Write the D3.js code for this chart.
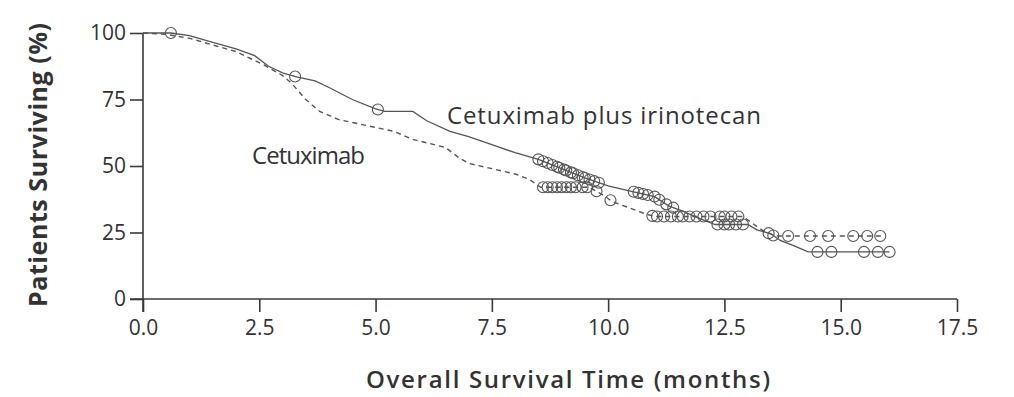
<!DOCTYPE html>
<html>
<head>
<meta charset="utf-8">
<script src="https://cdn.jsdelivr.net/npm/d3@7"></script>
<style>
  html, body { margin: 0; padding: 0; background: #fff; }
  svg { display: block; }
  text { font-family: "Open Sans", "Lato", sans-serif; fill: #333; }
</style>
</head>
<body>
<svg id="chart" width="1014" height="397"></svg>
<script>
// ---- Data ----
const xTicks = [0, 2.5, 5, 7.5, 10, 12.5, 15, 17.5];
const yTicks = [0, 25, 50, 75, 100];

// Cetuximab plus irinotecan (solid): months and % surviving
const comboTimes = [0, 0.6, 1.0, 1.5, 2.0, 2.4, 2.7, 3.0, 3.3, 3.7, 4.0, 4.5, 5.0, 5.2, 5.8, 6.1, 6.6, 7.0, 7.5, 8.0, 8.5, 9.0, 9.5, 10.0, 10.5, 11.0, 11.3, 11.6, 12.0, 12.3, 13.0, 13.2, 13.5, 13.7, 14.0, 14.3, 16.05];
const comboSurv  = [100, 100, 99, 96.5, 94, 91.5, 87.5, 85, 83.5, 82, 79.5, 75, 71.5, 70.5, 70.5, 67, 63, 61, 58, 55, 52.5, 49, 45.5, 42.5, 40.5, 38.5, 35, 33, 30, 28, 28, 26, 24.5, 22, 20, 17.7, 17.7];
const comboCensor = [0.6, 3.27, 5.05, 8.5, 8.6, 8.7, 8.8, 8.9, 8.95, 9.05, 9.1, 9.2, 9.25, 9.35, 9.45, 9.5, 9.6, 9.7, 9.8, 10.55, 10.65, 10.75, 10.85, 11.0, 11.1, 11.25, 11.4, 12.35, 12.5, 12.6, 12.75, 12.9, 13.45, 13.55, 14.5, 14.8, 15.5, 15.8, 16.05];

// Cetuximab (dashed)
const monoTimes = [0, 0.5, 1.0, 1.5, 2.0, 2.6, 3.0, 3.2, 3.5, 3.8, 4.2, 5.0, 5.4, 5.8, 6.5, 6.8, 7.0, 7.5, 8.0, 8.3, 8.55, 9.6, 9.9, 10.1, 10.5, 10.8, 11.0, 12.9, 13.1, 13.3, 13.6, 15.9];
const monoSurv  = [100, 99.5, 98, 95.5, 93, 88, 84, 81, 75, 70.5, 67.5, 64.5, 63, 60, 57, 53, 51, 49, 47, 45, 42, 42, 39, 36.5, 34, 32, 31, 31, 28.5, 26, 23.7, 23.7];
const monoCensor = [8.6, 8.7, 8.8, 8.9, 9.0, 9.1, 9.2, 9.3, 9.45, 9.55, 9.75, 10.05, 10.95, 11.05, 11.2, 11.35, 11.5, 11.6, 11.75, 11.9, 12.05, 12.2, 12.4, 12.5, 12.65, 12.8, 13.87, 14.34, 14.73, 15.27, 15.57, 15.85];

const labels = ["Cetuximab plus irinotecan", "Cetuximab"];

// ---- Drawing ----
const svg = d3.select("#chart");
const x = d3.scaleLinear().domain([0, 17.5]).range([143, 957]);
const y = d3.scaleLinear().domain([0, 100]).range([299, 33]);
const ink = "#3a3a3a";

const xAxis = svg.append("g").attr("transform", `translate(0,${y(0)})`)
  .call(d3.axisBottom(x).tickValues(xTicks).tickFormat(d3.format(".1f")).tickSize(13).tickPadding(8));
const yAxis = svg.append("g").attr("transform", `translate(${x(0)},0)`)
  .call(d3.axisLeft(y).tickValues(yTicks).tickFormat(d3.format("d")).tickSize(13).tickPadding(4));
[xAxis, yAxis].forEach(g => {
  g.select(".domain").attr("stroke", ink).attr("stroke-width", 1.6);
  g.selectAll(".tick line").attr("stroke", ink).attr("stroke-width", 1.6);
  g.selectAll(".tick text").attr("fill", "#505050").style("font-size", "21px")
    .style("font-family", "'Open Sans', sans-serif");
});
yAxis.select(".domain").attr("d", `M0,${y(100)}V${y(0) + 13}`);
xAxis.select(".domain").attr("d", `M${-13},0H${x(17.5) - x(0)}`).attr("transform", `translate(${x(0)},0)`);

const mk = (t, s) => t.map((d, i) => [d, s[i]]);
const combo = mk(comboTimes, comboSurv);
const mono = mk(monoTimes, monoSurv);
const line = d3.line().x(d => x(d[0])).y(d => y(d[1]));

svg.append("path").datum(mono).attr("d", line).attr("fill", "none")
  .attr("stroke", "#555").attr("stroke-width", 1.4).attr("stroke-dasharray", "5,4");
svg.append("path").datum(combo).attr("d", line).attr("fill", "none")
  .attr("stroke", "#555").attr("stroke-width", 1.3);

function survAt(pts, t) {
  for (let i = 1; i < pts.length; i++) {
    if (t <= pts[i][0]) {
      const [t0, s0] = pts[i - 1], [t1, s1] = pts[i];
      return s0 + (s1 - s0) * (t - t0) / (t1 - t0);
    }
  }
  return pts[pts.length - 1][1];
}
function censors(times, pts) {
  svg.append("g").selectAll("circle").data(times).join("circle")
    .attr("cx", d => x(d)).attr("cy", d => y(survAt(pts, d)))
    .attr("r", 5.5).attr("fill", "none").attr("stroke", "#555").attr("stroke-width", 1.1);
}
censors(comboCensor, combo);
censors(monoCensor, mono);

svg.append("text").attr("x", 447).attr("y", 124).style("font-size", "24px").attr("fill", "#333")
  .attr("textLength", 314).attr("lengthAdjust", "spacing").text(labels[0]);
svg.append("text").attr("x", 252).attr("y", 164).style("font-size", "24px").attr("fill", "#333")
  .attr("textLength", 113).attr("lengthAdjust", "spacing").text(labels[1]);

svg.append("text").attr("x", 366).attr("y", 388)
  .style("font-size", "24px").style("font-weight", "600").attr("fill", "#333")
  .attr("textLength", 404).attr("lengthAdjust", "spacing").text("Overall Survival Time (months)");
svg.append("text").attr("transform", `translate(47,307) rotate(-90)`)
  .style("font-size", "25px").style("font-weight", "700").attr("fill", "#333")
  .attr("textLength", 284).attr("lengthAdjust", "spacing").text("Patients Surviving (%)");
</script>
</body>
</html>
